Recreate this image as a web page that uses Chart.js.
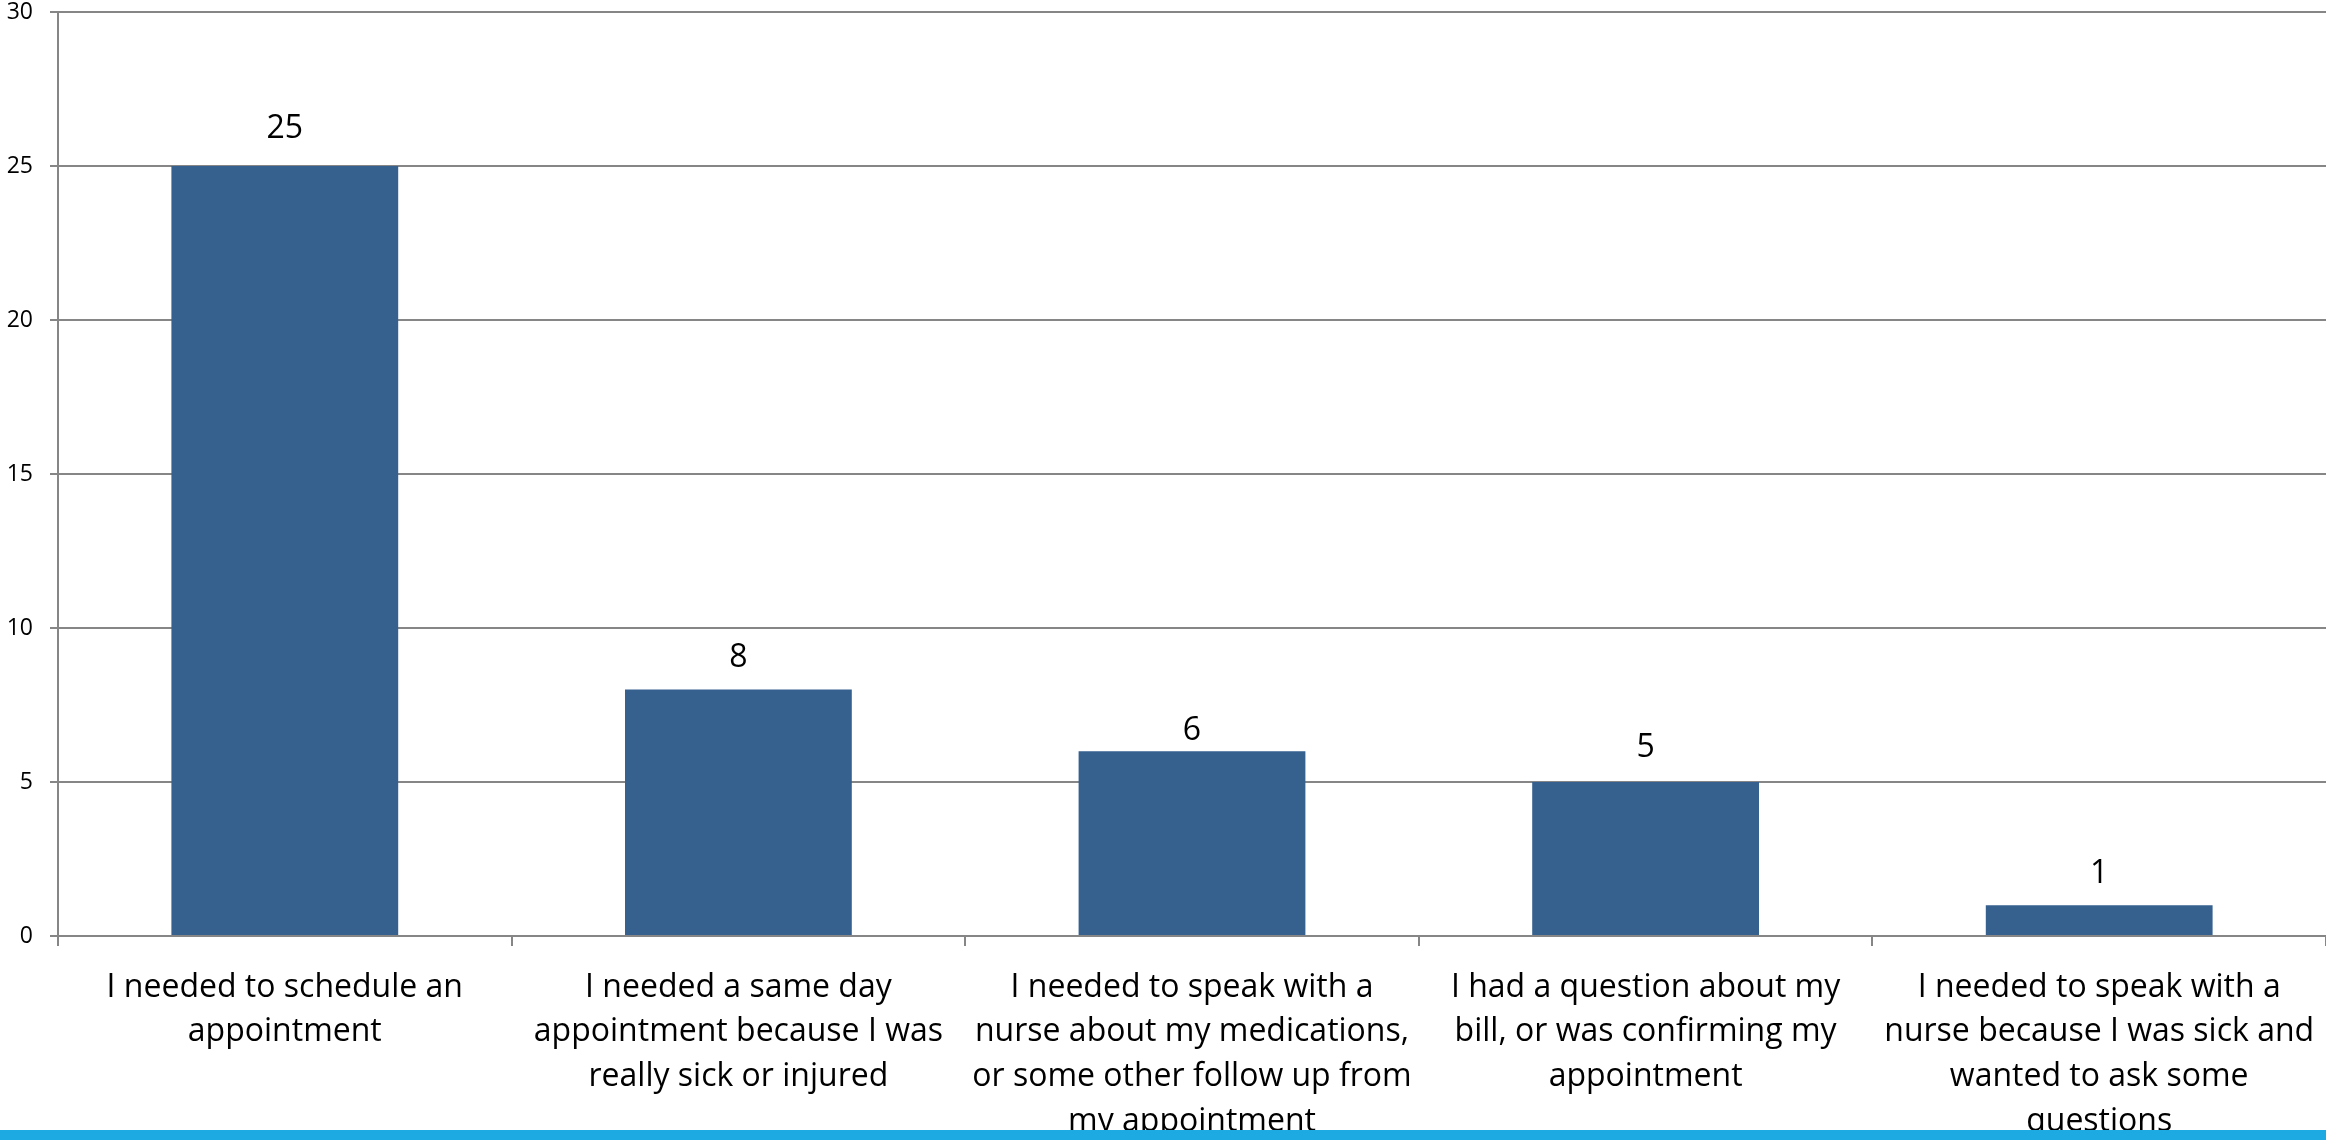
<!DOCTYPE html>
<html>
<head>
<meta charset="utf-8">
<script src="https://cdn.jsdelivr.net/npm/chart.js@4/dist/chart.umd.min.js"></script>
<style>
  html, body { margin: 0; padding: 0; background: #fff; }
  canvas { display: block; }
</style>
</head>
<body>
<canvas id="callChart" width="2326" height="1140"></canvas>
<script>
/* ── DATA ───────────────────────────────────────────── */
const categories = [
  ['I needed to schedule an', 'appointment'],
  ['I needed a same day', 'appointment because I was', 'really sick or injured'],
  ['I needed to speak with a', 'nurse about my medications,', 'or some other follow up from', 'my appointment'],
  ['I had a question about my', 'bill, or was confirming my', 'appointment'],
  ['I needed to speak with a', 'nurse because I was sick and', 'wanted to ask some', 'questions']
];
const counts = [25, 8, 6, 5, 1];
const yTicks = [0, 5, 10, 15, 20, 25, 30];

/* label lift above each bar (px) */
const labelLift = [37, 32, 20, 34, 31];

const BAR_COLOR = '#36618F';
const GRID_COLOR = '#868686';
const FONT = '"Open Sans", "Liberation Sans", sans-serif';

/* ── PLUGINS ────────────────────────────────────────── */
const valueLabels = {
  id: 'value-labels',
  afterDatasetsDraw(chart) {
    const { ctx } = chart;
    const meta = chart.getDatasetMeta(0);
    ctx.save();
    ctx.fillStyle = '#000';
    ctx.font = '32px ' + FONT;
    ctx.textAlign = 'center';
    ctx.textBaseline = 'middle';
    meta.data.forEach((bar, i) => {
      ctx.fillText(String(counts[i]), bar.x, bar.y - labelLift[i]);
    });
    ctx.restore();
  }
};

const footerBand = {
  id: 'footer-band',
  afterDraw(chart) {
    const { ctx, width, height } = chart;
    ctx.save();
    ctx.fillStyle = '#1DA9E1';
    ctx.fillRect(0, height - 10, width, 10);
    ctx.restore();
  }
};

/* ── CHART ──────────────────────────────────────────── */
const ctx = document.getElementById('callChart').getContext('2d');
new Chart(ctx, {
  type: 'bar',
  data: {
    labels: categories,
    datasets: [{
      data: counts,
      backgroundColor: BAR_COLOR,
      borderWidth: 0,
      categoryPercentage: 1,
      barPercentage: 0.5
    }]
  },
  options: {
    responsive: false,
    animation: false,
    layout: { padding: { top: 12, right: 0, left: 0, bottom: 0 } },
    plugins: {
      legend: { display: false },
      tooltip: { enabled: false }
    },
    scales: {
      x: {
        grid: {
          display: true,
          drawOnChartArea: false,
          color: GRID_COLOR,
          lineWidth: 2,
          tickLength: 10,
          offset: true
        },
        border: { color: GRID_COLOR, width: 2 },
        ticks: {
          color: '#000',
          font: { family: FONT, size: 32, lineHeight: 1.4 },
          padding: 19,
          maxRotation: 0,
          autoSkip: false
        },
        afterFit(scale) {
          scale.height = 204;
          scale.paddingLeft = 0;
          scale.paddingRight = 0;
        }
      },
      y: {
        min: 0,
        max: 30,
        afterBuildTicks(scale) { scale.ticks = yTicks.map(v => ({ value: v })); },
        grid: {
          color: GRID_COLOR,
          lineWidth: 2,
          tickLength: 8
        },
        border: { color: GRID_COLOR, width: 2 },
        ticks: {
          color: '#000',
          font: { family: FONT, size: 23 },
          padding: 17
        },
        afterFit(scale) {
          scale.width = 58;
          scale.paddingTop = 0;
          scale.paddingBottom = 0;
        }
      }
    }
  },
  plugins: [valueLabels, footerBand]
});
</script>
</body>
</html>
